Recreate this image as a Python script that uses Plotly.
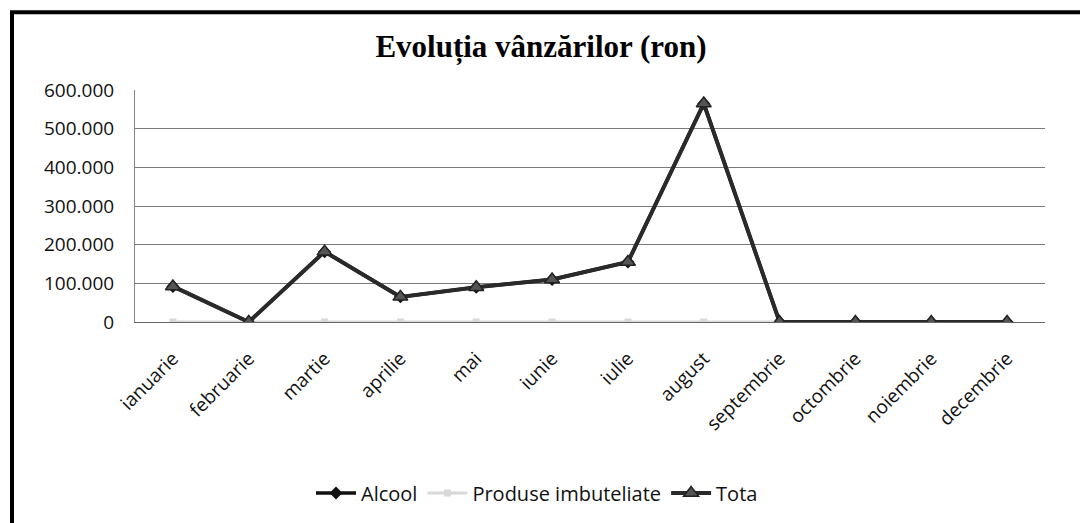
import plotly.graph_objects as go

months = ["ianuarie", "februarie", "martie", "aprilie", "mai", "iunie",
          "iulie", "august", "septembrie", "octombrie", "noiembrie", "decembrie"]
alcool = [92000, 0, 182000, 65000, 90000, 110000, 155000, 565000, 0, 0, 0, 0]
produse = [0, 0, 0, 0, 0, 0, 0, 0, 0, 0, 0, 0]
total = [92000, 0, 182000, 65000, 90000, 110000, 155000, 565000, 0, 0, 0, 0]
y_ticks = [0, 100000, 200000, 300000, 400000, 500000, 600000]
y_labels = ["0", "100.000", "200.000", "300.000", "400.000", "500.000", "600.000"]

W, H = 1080, 523
L, R, T, B = 135, 35, 90, 200
pw, ph = W - L - R, H - T - B

def px_x(px):
    return (px - L) / pw

def px_y(py):
    return (H - B - py) / ph

fig = go.Figure()
fig.add_trace(go.Scatter(x=months, y=alcool, name="Alcool", mode="lines+markers",
                         line=dict(color="#111111", width=3.5),
                         marker=dict(symbol="diamond", size=10, color="#111111")))
fig.add_trace(go.Scatter(x=months, y=produse, name="Produse imbuteliate", mode="lines+markers",
                         line=dict(color="#d8d8d8", width=3),
                         marker=dict(symbol="square", size=7, color="#d8d8d8")))
fig.add_trace(go.Scatter(x=months, y=total, name="Tota", mode="lines+markers",
                         line=dict(color="#2a2a2a", width=4),
                         marker=dict(symbol="triangle-up", size=13, color="#555555",
                                     line=dict(color="#222222", width=1.5))))

fig.update_layout(
    width=W, height=H,
    margin=dict(l=L, r=R, t=T, b=B),
    paper_bgcolor="white", plot_bgcolor="white",
    font=dict(family="Open Sans, Lato, sans-serif", size=17, color="#111111"),
    title=dict(text="<b>Evoluția vânzărilor (ron)</b>", x=541 / W, xanchor="center",
               y=1 - 46 / H, yanchor="middle", yref="container",
               font=dict(family="Liberation Serif, Times New Roman, serif", size=31, color="#000000")),
    showlegend=True,
    legend=dict(orientation="h", x=px_x(537), xanchor="center", y=px_y(493), yanchor="middle",
                font=dict(size=20), bgcolor="rgba(0,0,0,0)", itemwidth=40, traceorder="normal"),
    xaxis=dict(tickangle=-45, showgrid=False, showline=True, linecolor="#666666", linewidth=1,
               ticks="", tickfont=dict(size=19), zeroline=False, ticklabelstandoff=17,
               range=[-0.5, 11.5]),
    yaxis=dict(range=[0, 600000], tickvals=y_ticks, ticktext=y_labels, showgrid=True,
               gridcolor="#7a7a7a", gridwidth=1, showline=True,
               linecolor="#888888", linewidth=1, zeroline=False, ticks="",
               ticklabelstandoff=16, tickfont=dict(size=19)),
)

fig.add_shape(type="rect", xref="paper", yref="paper",
              x0=px_x(12), x1=px_x(1090), y0=px_y(540), y1=px_y(12),
              line=dict(color="#000000", width=4), layer="above")

fig.write_html("out.html", config={"displayModeBar": False},
               post_script="document.body.style.margin='0';")
